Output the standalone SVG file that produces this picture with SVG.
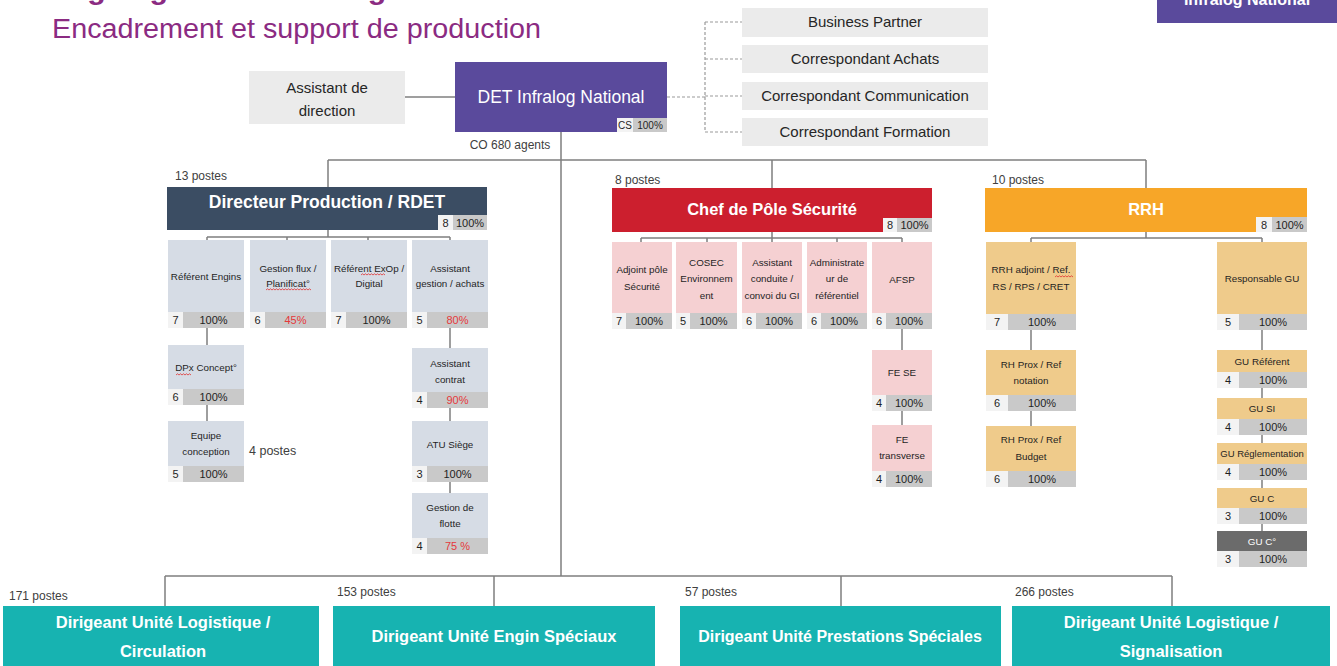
<svg xmlns="http://www.w3.org/2000/svg" width="1337" height="666" viewBox="0 0 1337 666">
<defs>
<style>
.t{font-family:"Liberation Sans",Arial,sans-serif}
.ln{stroke:#7f7f7f;stroke-width:1.5;fill:none}
.dash{stroke:#9a9a9a;stroke-width:1.2;stroke-dasharray:3 2;fill:none}
.wavy{stroke:#e03030;stroke-width:0.8;fill:none}
.sb{font-size:9.8px;fill:#1f1f1f;text-anchor:middle}
.num{font-size:11px;fill:#1f1f1f;text-anchor:middle}
.red{fill:#e5383b}
.nc{fill:#f3f3f3}
.gc{fill:#c9c9c9}
.blue{fill:#d6dce5}
.pink{fill:#f5d0d2}
.tan{fill:#efcb8b}
.lg{fill:#ebebeb}
.teal{fill:#17b3b1}
.hd{font-size:16.5px;font-weight:bold;fill:#fff;text-anchor:middle}
.bt{font-size:16.5px;font-weight:bold;fill:#fff;text-anchor:middle}
.gt{font-size:15px;fill:#262626;text-anchor:middle}
.post{font-size:12px;fill:#404040}
</style>
</defs>
<rect width="1337" height="666" fill="#fff"/>

<g id="title">
<text class="t" x="52" y="-1" font-size="28" font-weight="bold" fill="#8b2b82" textLength="462" lengthAdjust="spacingAndGlyphs">Organigramme Infralog National</text>
<text class="t" x="52" y="38" font-size="27" fill="#8b2b82" textLength="489" lengthAdjust="spacingAndGlyphs">Encadrement et support de production</text>
</g>
<g id="tag-infralog">
<rect x="1157" y="-10" width="180" height="33" fill="#5a4a9c"/>
<text class="t" x="1247" y="5" font-size="16" font-weight="bold" fill="#fff" text-anchor="middle">Infralog National</text>
</g>

<g id="connectors">
<path class="ln" d="M405 97H455"/>
<path class="dash" d="M667 97H705M705 22V132M705 22H742M705 59H742M705 96H742M705 132H742"/>
<path class="ln" d="M561 132V576M328 160H1146M328 160V187M772 160V188M1146 160V188"/>
<path class="ln" d="M328 230V237M207 237H450M207 237V240M287 237V240M368 237V240M450 237V240"/>
<path class="ln" d="M207 328V345M207 405V421M450 328V348M450 408V421M450 482V493"/>
<path class="ln" d="M772 232V238M641 238H902M641 238V242M707 238V242M772 238V242M837 238V242M902 238V242"/>
<path class="ln" d="M902 329V350M902 411V425"/>
<path class="ln" d="M1146 232V238M1031 238H1262M1031 238V242M1262 238V242"/>
<path class="ln" d="M1031 330V350M1031 411V426M1262 330V350M1262 388V398M1262 435V443M1262 480V488M1262 524V531"/>
<path class="ln" d="M165 576H1172M165 576V606M494 576V606M841 576V606M1172 576V606"/>
</g>

<g id="assistant-direction">
<rect class="lg" x="249" y="71" width="156" height="53"/>
<text class="t gt" x="327" y="93">Assistant de</text>
<text class="t gt" x="327" y="116">direction</text>
</g>

<g id="det">
<rect x="455" y="62" width="212" height="70" fill="#5a4a9c"/>
<text class="t" x="561" y="103" font-size="17.5" fill="#fff" text-anchor="middle">DET Infralog National</text>
<rect x="617" y="118" width="16" height="14" fill="#f3f3f3"/>
<rect class="gc" x="633" y="118" width="34" height="14"/>
<text class="t" x="625" y="129" font-size="10" fill="#262626" text-anchor="middle">CS</text>
<text class="t" x="650" y="129" font-size="10" fill="#262626" text-anchor="middle">100%</text>
<text class="t post" x="510" y="149" text-anchor="middle">CO 680 agents</text>
</g>

<g id="business-partner"><rect class="lg" x="742" y="8" width="246" height="29"/><text class="t gt" x="865" y="27">Business Partner</text></g>
<g id="corr-achats"><rect class="lg" x="742" y="45" width="246" height="28"/><text class="t gt" x="865" y="64">Correspondant Achats</text></g>
<g id="corr-communication"><rect class="lg" x="742" y="82" width="246" height="28"/><text class="t gt" x="865" y="101">Correspondant Communication</text></g>
<g id="corr-formation"><rect class="lg" x="742" y="118" width="246" height="28"/><text class="t gt" x="865" y="137">Correspondant Formation</text></g>

<!-- Directeur Production -->
<g id="directeur-production">
<text class="t post" x="175" y="180">13 postes</text>
<rect x="167" y="187" width="320" height="43" fill="#3b4d63"/>
<text class="t hd" x="327" y="208" font-size="17.5" style="font-size:17.5px">Directeur Production / RDET</text>
<rect class="nc" x="438" y="215" width="15" height="15"/>
<rect class="gc" x="453" y="215" width="34" height="15"/>
<text class="t num" x="445.5" y="227">8</text>
<text class="t num" x="470" y="227">100%</text>
</g>

<g id="referent-engins">
<rect class="blue" x="168" y="240" width="76" height="72"/>
<rect class="nc" x="168" y="312" width="15" height="16"/><rect class="gc" x="183" y="312" width="61" height="16"/>
<text class="t sb" x="206" y="280">Référent Engins</text>
<text class="t num" x="175.5" y="324">7</text><text class="t num" x="213.5" y="324">100%</text>
</g>
<g id="gestion-flux">
<rect class="blue" x="250" y="240" width="76" height="72"/>
<rect class="nc" x="250" y="312" width="15" height="16"/><rect class="gc" x="265" y="312" width="61" height="16"/>
<text class="t sb" x="288" y="272">Gestion flux /</text>
<text class="t sb" x="288" y="287">Planificat°</text>
<path class="wavy" d="M266 290l1.5-1.2l1.5 1.2l1.5-1.2l1.5 1.2l1.5-1.2l1.5 1.2l1.5-1.2l1.5 1.2l1.5-1.2l1.5 1.2l1.5-1.2l1.5 1.2l1.5-1.2l1.5 1.2l1.5-1.2l1.5 1.2l1.5-1.2l1.5 1.2l1.5-1.2l1.5 1.2l1.5-1.2l1.5 1.2l1.5-1.2l1.5 1.2l1.5-1.2l1.5 1.2l1.5-1.2l1.5 1.2l1.5-1.2l1.5 1.2"/>
<text class="t num" x="257.5" y="324">6</text><text class="t num red" x="295.5" y="324">45%</text>
</g>
<g id="referent-exop">
<rect class="blue" x="331" y="240" width="76" height="72"/>
<rect class="nc" x="331" y="312" width="15" height="16"/><rect class="gc" x="346" y="312" width="61" height="16"/>
<text class="t sb" x="369" y="272">Référent ExOp /</text>
<text class="t sb" x="369" y="287">Digital</text>
<path class="wavy" d="M361 275l1.5-1.2l1.5 1.2l1.5-1.2l1.5 1.2l1.5-1.2l1.5 1.2l1.5-1.2l1.5 1.2l1.5-1.2l1.5 1.2l1.5-1.2l1.5 1.2l1.5-1.2l1.5 1.2l1.5-1.2l1.5 1.2"/>
<text class="t num" x="338.5" y="324">7</text><text class="t num" x="376.5" y="324">100%</text>
</g>
<g id="assistant-gestion">
<rect class="blue" x="412" y="240" width="76" height="72"/>
<rect class="nc" x="412" y="312" width="15" height="16"/><rect class="gc" x="427" y="312" width="61" height="16"/>
<text class="t sb" x="450" y="272">Assistant</text>
<text class="t sb" x="450" y="287">gestion /  achats</text>
<text class="t num" x="419.5" y="324">5</text><text class="t num red" x="457.5" y="324">80%</text>
</g>
<g id="dpx-concept">
<rect class="blue" x="168" y="345" width="76" height="44"/>
<rect class="nc" x="168" y="389" width="15" height="16"/><rect class="gc" x="183" y="389" width="61" height="16"/>
<text class="t sb" x="206" y="371">DPx Concept°</text>
<path class="wavy" d="M176 375l1.5-1.2l1.5 1.2l1.5-1.2l1.5 1.2l1.5-1.2l1.5 1.2l1.5-1.2l1.5 1.2l1.5-1.2l1.5 1.2"/>
<text class="t num" x="175.5" y="401">6</text><text class="t num" x="213.5" y="401">100%</text>
</g>
<g id="equipe-conception">
<rect class="blue" x="168" y="421" width="76" height="45"/>
<rect class="nc" x="168" y="466" width="15" height="16"/><rect class="gc" x="183" y="466" width="61" height="16"/>
<text class="t sb" x="206" y="439">Equipe</text>
<text class="t sb" x="206" y="455">conception</text>
<text class="t num" x="175.5" y="478">5</text><text class="t num" x="213.5" y="478">100%</text>
<text class="t" x="249" y="455" font-size="12.5" fill="#404040">4 postes</text>
</g>
<g id="assistant-contrat">
<rect class="blue" x="412" y="348" width="76" height="44"/>
<rect class="nc" x="412" y="392" width="15" height="16"/><rect class="gc" x="427" y="392" width="61" height="16"/>
<text class="t sb" x="450" y="367">Assistant</text>
<text class="t sb" x="450" y="383">contrat</text>
<text class="t num" x="419.5" y="404">4</text><text class="t num red" x="457.5" y="404">90%</text>
</g>
<g id="atu-siege">
<rect class="blue" x="412" y="421" width="76" height="45"/>
<rect class="nc" x="412" y="466" width="15" height="16"/><rect class="gc" x="427" y="466" width="61" height="16"/>
<text class="t sb" x="450" y="448">ATU Siège</text>
<text class="t num" x="419.5" y="478">3</text><text class="t num" x="457.5" y="478">100%</text>
</g>
<g id="gestion-flotte">
<rect class="blue" x="412" y="493" width="76" height="45"/>
<rect class="nc" x="412" y="538" width="15" height="16"/><rect class="gc" x="427" y="538" width="61" height="16"/>
<text class="t sb" x="450" y="511">Gestion de</text>
<text class="t sb" x="450" y="527">flotte</text>
<text class="t num" x="419.5" y="550">4</text><text class="t num red" x="457.5" y="550">75 %</text>
</g>

<!-- Chef de Pole Securite -->
<g id="chef-pole-securite">
<text class="t post" x="615" y="184">8 postes</text>
<rect x="612" y="188" width="320" height="44" fill="#cc1f2e"/>
<text class="t hd" x="772" y="215">Chef de Pôle Sécurité</text>
<rect class="nc" x="883" y="218" width="14" height="14"/>
<rect class="gc" x="897" y="218" width="35" height="14"/>
<text class="t num" x="890" y="229">8</text>
<text class="t num" x="914.5" y="229">100%</text>
</g>
<g id="adjoint-pole">
<rect class="pink" x="612" y="242" width="60" height="71"/>
<rect class="nc" x="612" y="313" width="14" height="16"/><rect class="gc" x="626" y="313" width="46" height="16"/>
<text class="t sb" x="642" y="273">Adjoint pôle</text>
<text class="t sb" x="642" y="290">Sécurité</text>
<text class="t num" x="619" y="325">7</text><text class="t num" x="649" y="325">100%</text>
</g>
<g id="cosec">
<rect class="pink" x="676" y="242" width="61" height="71"/>
<rect class="nc" x="676" y="313" width="14" height="16"/><rect class="gc" x="690" y="313" width="47" height="16"/>
<text class="t sb" x="706.5" y="266">COSEC</text>
<text class="t sb" x="706.5" y="282">Environnem</text>
<text class="t sb" x="706.5" y="299">ent</text>
<text class="t num" x="683" y="325">5</text><text class="t num" x="713.5" y="325">100%</text>
</g>
<g id="assistant-conduite">
<rect class="pink" x="742" y="242" width="60" height="71"/>
<rect class="nc" x="742" y="313" width="14" height="16"/><rect class="gc" x="756" y="313" width="46" height="16"/>
<text class="t sb" x="772" y="266">Assistant</text>
<text class="t sb" x="772" y="282">conduite /</text>
<text class="t sb" x="772" y="299">convoi du GI</text>
<text class="t num" x="749" y="325">6</text><text class="t num" x="779" y="325">100%</text>
</g>
<g id="administrateur">
<rect class="pink" x="807" y="242" width="60" height="71"/>
<rect class="nc" x="807" y="313" width="14" height="16"/><rect class="gc" x="821" y="313" width="46" height="16"/>
<text class="t sb" x="837" y="266">Administrate</text>
<text class="t sb" x="837" y="282">ur de</text>
<text class="t sb" x="837" y="299">référentiel</text>
<text class="t num" x="814" y="325">6</text><text class="t num" x="844" y="325">100%</text>
</g>
<g id="afsp">
<rect class="pink" x="872" y="242" width="60" height="71"/>
<rect class="nc" x="872" y="313" width="14" height="16"/><rect class="gc" x="886" y="313" width="46" height="16"/>
<text class="t sb" x="902" y="283">AFSP</text>
<text class="t num" x="879" y="325">6</text><text class="t num" x="909" y="325">100%</text>
</g>
<g id="fe-se">
<rect class="pink" x="872" y="350" width="60" height="45"/>
<rect class="nc" x="872" y="395" width="14" height="16"/><rect class="gc" x="886" y="395" width="46" height="16"/>
<text class="t sb" x="902" y="376">FE SE</text>
<text class="t num" x="879" y="407">4</text><text class="t num" x="909" y="407">100%</text>
</g>
<g id="fe-transverse">
<rect class="pink" x="872" y="425" width="60" height="46"/>
<rect class="nc" x="872" y="471" width="14" height="16"/><rect class="gc" x="886" y="471" width="46" height="16"/>
<text class="t sb" x="902" y="443">FE</text>
<text class="t sb" x="902" y="459">transverse</text>
<text class="t num" x="879" y="483">4</text><text class="t num" x="909" y="483">100%</text>
</g>

<!-- RRH -->
<g id="rrh">
<text class="t post" x="992" y="184">10 postes</text>
<rect x="985" y="188" width="322" height="44" fill="#f7a628"/>
<text class="t hd" x="1146" y="215">RRH</text>
<rect class="nc" x="1256" y="217" width="16" height="15"/>
<rect class="gc" x="1272" y="217" width="35" height="15"/>
<text class="t num" x="1264" y="229">8</text>
<text class="t num" x="1289.5" y="229">100%</text>
</g>
<g id="rrh-adjoint">
<rect class="tan" x="986" y="242" width="90" height="72"/>
<rect class="nc" x="986" y="314" width="22" height="16"/><rect class="gc" x="1008" y="314" width="68" height="16"/>
<text class="t sb" x="1031" y="273">RRH adjoint / Ref.</text>
<text class="t sb" x="1031" y="290">RS / RPS / CRET</text>
<path class="wavy" d="M1055 277l1.5-1.2l1.5 1.2l1.5-1.2l1.5 1.2l1.5-1.2l1.5 1.2l1.5-1.2l1.5 1.2l1.5-1.2l1.5 1.2l1.5-1.2l1.5 1.2"/>
<text class="t num" x="997" y="326">7</text><text class="t num" x="1042" y="326">100%</text>
</g>
<g id="responsable-gu">
<rect class="tan" x="1217" y="242" width="90" height="72"/>
<rect class="nc" x="1217" y="314" width="22" height="16"/><rect class="gc" x="1239" y="314" width="68" height="16"/>
<text class="t sb" x="1262" y="282">Responsable GU</text>
<text class="t num" x="1228" y="326">5</text><text class="t num" x="1273" y="326">100%</text>
</g>
<g id="rh-prox-notation">
<rect class="tan" x="986" y="350" width="90" height="45"/>
<rect class="nc" x="986" y="395" width="22" height="16"/><rect class="gc" x="1008" y="395" width="68" height="16"/>
<text class="t sb" x="1031" y="368">RH Prox / Ref</text>
<text class="t sb" x="1031" y="384">notation</text>
<text class="t num" x="997" y="407">6</text><text class="t num" x="1042" y="407">100%</text>
</g>
<g id="rh-prox-budget">
<rect class="tan" x="986" y="426" width="90" height="45"/>
<rect class="nc" x="986" y="471" width="22" height="16"/><rect class="gc" x="1008" y="471" width="68" height="16"/>
<text class="t sb" x="1031" y="443">RH Prox / Ref</text>
<text class="t sb" x="1031" y="460">Budget</text>
<text class="t num" x="997" y="483">6</text><text class="t num" x="1042" y="483">100%</text>
</g>
<g id="gu-referent">
<rect class="tan" x="1217" y="350" width="90" height="22"/>
<rect class="nc" x="1217" y="372" width="22" height="16"/><rect class="gc" x="1239" y="372" width="68" height="16"/>
<text class="t sb" x="1262" y="365">GU Référent</text>
<text class="t num" x="1228" y="384">4</text><text class="t num" x="1273" y="384">100%</text>
</g>
<g id="gu-si">
<rect class="tan" x="1217" y="398" width="90" height="21"/>
<rect class="nc" x="1217" y="419" width="22" height="16"/><rect class="gc" x="1239" y="419" width="68" height="16"/>
<text class="t sb" x="1262" y="412">GU SI</text>
<text class="t num" x="1228" y="431">4</text><text class="t num" x="1273" y="431">100%</text>
</g>
<g id="gu-reglementation">
<rect class="tan" x="1217" y="443" width="90" height="21"/>
<rect class="nc" x="1217" y="464" width="22" height="16"/><rect class="gc" x="1239" y="464" width="68" height="16"/>
<text class="t sb" x="1262" y="457" style="font-size:9.5px">GU Réglementation</text>
<text class="t num" x="1228" y="476">4</text><text class="t num" x="1273" y="476">100%</text>
</g>
<g id="gu-c">
<rect class="tan" x="1217" y="488" width="90" height="20"/>
<rect class="nc" x="1217" y="508" width="22" height="16"/><rect class="gc" x="1239" y="508" width="68" height="16"/>
<text class="t sb" x="1262" y="502">GU C</text>
<text class="t num" x="1228" y="520">3</text><text class="t num" x="1273" y="520">100%</text>
</g>
<g id="gu-c2">
<rect x="1217" y="531" width="90" height="20" fill="#6b6b6b"/>
<rect class="nc" x="1217" y="551" width="22" height="16"/><rect class="gc" x="1239" y="551" width="68" height="16"/>
<text class="t sb" x="1262" y="545" style="fill:#fff">GU C°</text>
<text class="t num" x="1228" y="563">3</text><text class="t num" x="1273" y="563">100%</text>
</g>

<!-- Bottom units -->
<g id="du-circulation">
<text class="t post" x="9" y="600">171 postes</text>
<rect class="teal" x="3" y="606" width="316" height="70"/>
<text class="t bt" x="163" y="628">Dirigeant Unité Logistique /</text>
<text class="t bt" x="163" y="657">Circulation</text>
</g>
<g id="du-engin">
<text class="t post" x="337" y="596">153 postes</text>
<rect class="teal" x="333" y="606" width="322" height="70"/>
<text class="t bt" x="494" y="642">Dirigeant Unité Engin Spéciaux</text>
</g>
<g id="du-prestations">
<text class="t post" x="685" y="596">57 postes</text>
<rect class="teal" x="680" y="606" width="321" height="70"/>
<text class="t bt" x="840" y="642" style="font-size:16px">Dirigeant Unité Prestations Spéciales</text>
</g>
<g id="du-signalisation">
<text class="t post" x="1015" y="596">266 postes</text>
<rect class="teal" x="1012" y="606" width="318" height="70"/>
<text class="t bt" x="1171" y="628">Dirigeant Unité Logistique /</text>
<text class="t bt" x="1171" y="657">Signalisation</text>
</g>
</svg>
